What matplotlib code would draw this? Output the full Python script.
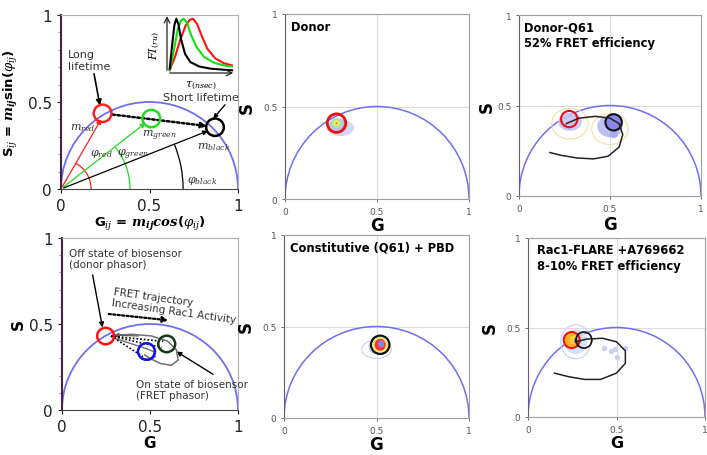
import numpy as np
import matplotlib
matplotlib.use("Agg")
import matplotlib.pyplot as plt
from matplotlib.patches import Arc, Circle, Ellipse

plt.rcParams["font.family"] = "DejaVu Sans"
plt.rcParams["mathtext.fontset"] = "dejavuserif"

# ---------------- data ----------------
# panel A: reference phasors (red = long, green, black = short lifetime)
ref_colors = ["#ff2020", "#20dd20", "#000000"]
ref_g = [0.235, 0.51, 0.87]
ref_s = [0.435, 0.405, 0.355]
ref_tip_g = [0.235, 0.49, 0.845]
ref_tip_s = [0.415, 0.39, 0.34]
ref_arc_r = [0.17, 0.39, 0.69]
ref_m_labels = [r"$m_{red}$", r"$m_{green}$", r"$m_{black}$"]
ref_m_pos = [(0.05, 0.355), (0.455, 0.31), (0.77, 0.245)]
ref_phi_labels = [r"$\varphi_{red}$", r"$\varphi_{green}$", r"$\varphi_{black}$"]
ref_phi_pos = [(0.165, 0.205), (0.315, 0.2), (0.71, 0.05)]

# inset decay curves (x, y in inset units)
inset_black_x = [0.04, 0.08, 0.11, 0.14, 0.17, 0.21, 0.27, 0.35, 0.48, 0.65, 0.85, 0.97]
inset_black_y = [0.08, 0.55, 0.88, 1.00, 0.90, 0.62, 0.35, 0.20, 0.12, 0.08, 0.06, 0.05]
inset_green_x = [0.04, 0.10, 0.16, 0.21, 0.25, 0.30, 0.36, 0.44, 0.55, 0.70, 0.85, 0.97]
inset_green_y = [0.05, 0.40, 0.80, 0.97, 1.00, 0.92, 0.70, 0.48, 0.30, 0.19, 0.14, 0.12]
inset_red_x = [0.04, 0.12, 0.20, 0.28, 0.34, 0.39, 0.45, 0.52, 0.60, 0.72, 0.85, 0.97]
inset_red_y = [0.05, 0.30, 0.62, 0.88, 0.98, 1.00, 0.90, 0.68, 0.45, 0.27, 0.18, 0.14]

# panel B: biosensor states
off_g, off_s = 0.248, 0.43
fret_blue_g, fret_blue_s = 0.48, 0.34
fret_green_g, fret_green_s = 0.595, 0.384
loop_g = [0.29, 0.40, 0.51, 0.60, 0.65, 0.66, 0.62, 0.56, 0.50, 0.47]
loop_s = [0.435, 0.44, 0.43, 0.40, 0.35, 0.29, 0.26, 0.27, 0.30, 0.32]
loop2_g = [0.29, 0.38, 0.47, 0.52, 0.53, 0.50, 0.46]
loop2_s = [0.42, 0.39, 0.36, 0.34, 0.31, 0.29, 0.30]

# panels C-F: phasor clouds (g, s, width, height, color, alpha, filled)
donor_cloud = [
    (0.30, 0.385, 0.15, 0.09, "#cdd5f8", 0.9, True),
    (0.29, 0.40, 0.10, 0.07, "#b0c0f2", 0.9, True),
    (0.28, 0.41, 0.06, 0.055, "#a8e8a0", 0.9, True),
    (0.28, 0.41, 0.035, 0.03, "#f0f060", 1.0, True),
    (0.28, 0.41, 0.012, 0.012, "#ff8020", 1.0, True),
]
donor_circle = (0.28, 0.41)

q61_cloud = [
    (0.28, 0.40, 0.20, 0.17, "#f0e0a0", 1.0, False),
    (0.50, 0.37, 0.20, 0.17, "#f0e0a0", 1.0, False),
    (0.28, 0.41, 0.13, 0.10, "#c4c4f4", 0.9, True),
    (0.50, 0.385, 0.14, 0.12, "#b8b8f2", 0.9, True),
    (0.52, 0.34, 0.05, 0.04, "#a8a8f0", 0.9, True),
]
q61_red = (0.276, 0.425)
q61_black = (0.52, 0.407)
q61_traj_g = [0.26, 0.33, 0.42, 0.50, 0.55, 0.57, 0.55, 0.49, 0.41, 0.32, 0.23, 0.17]
q61_traj_s = [0.40, 0.43, 0.44, 0.43, 0.40, 0.34, 0.27, 0.22, 0.205, 0.21, 0.225, 0.24]

pbd_cloud = [
    (0.50, 0.375, 0.16, 0.10, "#c8d0f8", 1.0, False),
    (0.51, 0.39, 0.10, 0.08, "#b0c8f0", 1.0, False),
    (0.52, 0.40, 0.085, 0.085, "#f8f060", 1.0, True),
    (0.52, 0.40, 0.06, 0.065, "#ff3030", 1.0, True),
    (0.525, 0.405, 0.035, 0.04, "#8a80f0", 1.0, True),
]
pbd_black = (0.52, 0.40)

flare_cloud = [
    (0.27, 0.42, 0.17, 0.19, "#c8d0f8", 1.0, False),
    (0.27, 0.42, 0.13, 0.14, "#d4dcf8", 0.9, True),
    (0.25, 0.43, 0.085, 0.085, "#ffb020", 1.0, True),
    (0.26, 0.43, 0.05, 0.05, "#f0d040", 1.0, True),
    (0.27, 0.425, 0.02, 0.03, "#8a60e0", 1.0, True),
]
flare_dots_g = [0.43, 0.47, 0.55, 0.50, 0.49]
flare_dots_s = [0.385, 0.37, 0.385, 0.335, 0.38]
flare_red = (0.247, 0.43)
flare_black = (0.316, 0.43)
flare_traj_g = [0.27, 0.33, 0.42, 0.50, 0.55, 0.55, 0.50, 0.41, 0.32, 0.23, 0.15]
flare_traj_s = [0.42, 0.435, 0.44, 0.42, 0.37, 0.30, 0.245, 0.21, 0.21, 0.225, 0.245]

# ---------------- figure ----------------
W, H = 707, 456
fig = plt.figure(figsize=(W / 100, H / 100), dpi=100)


def px_axes(left, right, top, bottom):
    return fig.add_axes([left / W, 1 - bottom / H, (right - left) / W, (bottom - top) / H])


def semicircle(ax, lw=1.3):
    ax.add_patch(Arc((0.5, 0), 1, 1, theta1=0, theta2=180, color="#6f6ff0", lw=lw))


def ring(ax, xy, r, color, lw=1.8, face="none", z=5):
    ax.add_patch(Circle(xy, r, facecolor=face, edgecolor=color, lw=lw, zorder=z))


def big_frame(ax):
    ax.set_xlim(0, 1)
    ax.set_ylim(0, 1)
    ax.set_xticks([0, 0.5, 1])
    ax.set_yticks([0, 0.5, 1])
    ax.set_xticklabels(["0", "0.5", "1"])
    ax.set_yticklabels(["0", "0.5", "1"])
    ax.set_yticks(np.arange(0, 1.01, 0.1), minor=True)
    ax.tick_params(labelsize=11, colors="#222222", length=3)
    ax.tick_params(which="minor", length=2, colors="#888888")
    ax.spines["top"].set_color("#b0b0b0")
    ax.spines["right"].set_color("#b0b0b0")
    ax.spines["left"].set_color("#4a1f4a")
    ax.spines["left"].set_linewidth(1.5)
    ax.spines["bottom"].set_color("#444444")


def small_frame(ax, title, tx=0.03):
    ax.set_xlim(0, 1)
    ax.set_ylim(0, 1)
    ax.set_xticks([0, 0.5, 1])
    ax.set_yticks([0, 0.5, 1])
    ax.set_xticklabels(["0", "0.5", "1"])
    ax.set_yticklabels(["0", "0.5", "1"])
    ax.tick_params(labelsize=6.5, colors="#555555", length=2, width=0.6)
    ax.grid(True, color="#dcdcdc", lw=0.8)
    ax.set_axisbelow(True)
    for sp in ax.spines.values():
        sp.set_color("#a0a0a0")
    ax.spines["left"].set_color("#6a5a70")
    ax.text(tx, 0.97, title, transform=ax.transAxes, fontsize=8.3,
            fontweight="bold", va="top", ha="left", linespacing=1.3)
    semicircle(ax, lw=1.1)


def clouds(ax, items):
    for g, s, w, h, c, a, filled in items:
        if filled:
            ax.add_patch(Ellipse((g, s), w, h, facecolor=c, edgecolor="none", alpha=a, zorder=3))
        else:
            ax.add_patch(Ellipse((g, s), w, h, facecolor="none", edgecolor=c, lw=0.8, alpha=a, zorder=3))


# ---- panel A ----
ax1 = px_axes(61, 238, 16, 190)
big_frame(ax1)
semicircle(ax1)
for c, g, s, tg, ts, r in zip(ref_colors, ref_g, ref_s, ref_tip_g, ref_tip_s, ref_arc_r):
    ax1.annotate("", xy=(tg, ts), xytext=(0, 0),
                 arrowprops=dict(arrowstyle="-|>", color=c, lw=0.9, mutation_scale=7))
    ang = np.degrees(np.arctan2(ts, tg))
    ax1.add_patch(Arc((0, 0), 2 * r, 2 * r, theta1=0, theta2=ang, color=c, lw=0.9))
    ring(ax1, (g, s), 0.05, c)
for lab, (x, y) in zip(ref_m_labels, ref_m_pos):
    ax1.text(x, y, lab, fontsize=8, color="#333333", ha="left", va="center")
for lab, (x, y) in zip(ref_phi_labels, ref_phi_pos):
    ax1.text(x, y, lab, fontsize=8, color="#333333", ha="left", va="center")
ax1.annotate("", xy=(ref_g[2] - 0.03, ref_s[2] + 0.005), xytext=(ref_g[0] + 0.04, ref_s[0] - 0.005),
             arrowprops=dict(arrowstyle="-|>", color="black", lw=1.8, ls=(0, (1, 1)), mutation_scale=8))
ax1.annotate("Long\nlifetime", xy=(0.22, 0.48), xytext=(0.04, 0.74), fontsize=8,
             color="#333333", ha="left", va="center",
             arrowprops=dict(arrowstyle="-|>", color="black", lw=1.2, mutation_scale=8,
                             shrinkA=0, shrinkB=0, relpos=(0.6, 0)))
ax1.annotate("Short lifetime", xy=(0.86, 0.405), xytext=(0.79, 0.50), fontsize=8,
             color="#333333", ha="center", va="bottom",
             arrowprops=dict(arrowstyle="-|>", color="black", lw=1.0, mutation_scale=6,
                             shrinkA=0, shrinkB=0, relpos=(0.85, 0)))
ax1.set_ylabel(r"S$_{ij}$ = $\mathbfit{m_{ij}}$sin($\varphi_{ij}$)",
               fontsize=9.5, fontweight="bold", labelpad=6)
ax1.set_xlabel(r"G$_{ij}$ = $\mathbfit{m_{ij}cos}$($\varphi_{ij}$)",
               fontsize=9.5, fontweight="bold", labelpad=1)

# inset
axi = px_axes(167, 234, 17, 74)
axi.set_xlim(0, 1)
axi.set_ylim(0, 1.05)
axi.axis("off")
axi.plot(inset_red_x, inset_red_y, color="#ff1010", lw=1.5)
axi.plot(inset_green_x, inset_green_y, color="#10e010", lw=1.5)
axi.plot(inset_black_x, inset_black_y, color="black", lw=1.5)
axi.annotate("", xy=(0, 1.1), xytext=(0, 0), annotation_clip=False,
             arrowprops=dict(arrowstyle="->", color="#222222", lw=0.9))
axi.annotate("", xy=(1.03, 0), xytext=(0, 0), annotation_clip=False,
             arrowprops=dict(arrowstyle="->", color="#222222", lw=0.9))
axi.text(-0.08, 0.5, r"$FI_{(ru)}$", rotation=90, fontsize=8, ha="right", va="center",
         transform=axi.transAxes)
axi.text(0.5, -0.1, r"$\tau_{(nsec)}$", fontsize=8, ha="center", va="top",
         transform=axi.transAxes)

# ---- panel B ----
ax2 = px_axes(62, 238, 239, 411)
big_frame(ax2)
semicircle(ax2)
ax2.plot(loop_g, loop_s, color="#707070", lw=1.1, zorder=4)
ax2.plot(loop2_g, loop2_s, color="#707070", lw=1.0, zorder=4)
for tg, ts in [(fret_blue_g - 0.02, fret_blue_s - 0.03), (fret_green_g - 0.02, fret_green_s + 0.015),
               (fret_green_g - 0.03, fret_green_s - 0.02)]:
    ax2.plot([off_g + 0.03, tg], [off_s, ts], color="black", lw=1.2, ls=(0, (1, 1.2)), zorder=4)
ax2.annotate("", xy=(off_g + 0.03, off_s + 0.005), xytext=(0.45, 0.43),
             arrowprops=dict(arrowstyle="-|>", color="#444444", lw=0.8, mutation_scale=7))
ring(ax2, (off_g, off_s), 0.048, "#ff1010")
ring(ax2, (fret_blue_g, fret_blue_s), 0.048, "#1010ee")
ring(ax2, (fret_green_g, fret_green_s), 0.048, "#143a14")
ax2.annotate("", xy=(0.62, 0.52), xytext=(0.25, 0.56),
             arrowprops=dict(arrowstyle="-|>", color="black", lw=1.6, ls=(0, (1, 1)), mutation_scale=8))
ax2.text(0.28, 0.60, "FRET trajectory\nIncreasing Rac1 Activity", fontsize=7.5, color="#333333",
         rotation=-8, ha="left", va="bottom", linespacing=1.1, rotation_mode="anchor")
ax2.annotate("Off state of biosensor\n(donor phasor)", xy=(0.23, 0.48), xytext=(0.04, 0.88),
             fontsize=7.5, color="#333333", ha="left", va="center",
             arrowprops=dict(arrowstyle="-|>", color="black", lw=1.0, mutation_scale=7,
                             shrinkA=2, shrinkB=0, relpos=(0.2, 0)))
ax2.annotate("On state of biosensor\n(FRET phasor)", xy=(0.65, 0.34), xytext=(0.42, 0.12),
             fontsize=7.5, color="#333333", ha="left", va="center",
             arrowprops=dict(arrowstyle="-|>", color="black", lw=1.0, mutation_scale=7,
                             shrinkA=2, shrinkB=0, relpos=(0.75, 1)))
ax2.set_ylabel("S", fontsize=11, fontweight="bold", labelpad=2)
ax2.set_xlabel("G", fontsize=11, fontweight="bold", labelpad=1)

# ---- panel C: Donor ----
ax3 = px_axes(285, 469, 15, 200)
small_frame(ax3, "Donor")
clouds(ax3, donor_cloud)
ring(ax3, donor_circle, 0.05, "#ee1010", lw=2)
ax3.set_ylabel("S", fontsize=12, fontweight="bold", labelpad=5)
ax3.set_xlabel("G", fontsize=12, fontweight="bold", labelpad=0)

# ---- panel D: Donor-Q61 ----
ax4 = px_axes(519, 701, 16, 197)
small_frame(ax4, "Donor-Q61\n52% FRET efficiency")
clouds(ax4, q61_cloud)
ax4.plot(q61_traj_g, q61_traj_s, color="#222222", lw=1.1, zorder=6)
ring(ax4, q61_red, 0.045, "#ee1010", lw=1.5)
ring(ax4, q61_black, 0.045, "#111111", lw=1.5, face="#8a86ea")
ax4.set_ylabel("S", fontsize=12, fontweight="bold", labelpad=1)
ax4.set_xlabel("G", fontsize=12, fontweight="bold", labelpad=2)

# ---- panel E: constitutive ----
ax5 = px_axes(284, 469, 236, 419)
small_frame(ax5, "Constitutive (Q61) + PBD")
clouds(ax5, pbd_cloud)
ring(ax5, pbd_black, 0.05, "#111111", lw=1.6)
ax5.set_ylabel("S", fontsize=12, fontweight="bold", labelpad=5)
ax5.set_xlabel("G", fontsize=12, fontweight="bold", labelpad=0)

# ---- panel F: Rac1-FLARE ----
ax6 = px_axes(528, 705, 239, 418)
small_frame(ax6, "Rac1-FLARE +A769662\n8-10% FRET efficiency", tx=0.05)
clouds(ax6, flare_cloud)
ax6.scatter(flare_dots_g, flare_dots_s, s=8, color="#c8d0f8", zorder=3)
ax6.plot(flare_traj_g, flare_traj_s, color="#222222", lw=1.1, zorder=6)
ring(ax6, flare_red, 0.045, "#ee1010", lw=1.5)
ring(ax6, flare_black, 0.045, "#111111", lw=1.2)
ax6.set_ylabel("S", fontsize=12, fontweight="bold", labelpad=5)
ax6.set_xlabel("G", fontsize=11.5, fontweight="bold", labelpad=1)

fig.savefig("out.png", dpi=100)
